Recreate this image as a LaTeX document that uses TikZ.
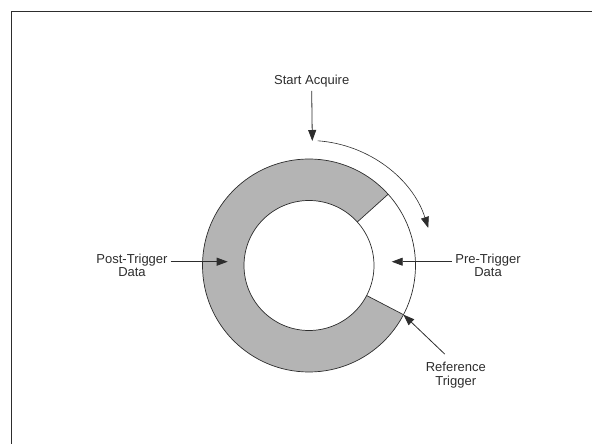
\documentclass[tikz,border=0pt]{standalone}
\usepackage{fontspec}
\setmainfont{Liberation Sans}
\usepackage{tikz}
\usetikzlibrary{arrows.meta}
\definecolor{ringgray}{RGB}{180,180,180}
\definecolor{inkgray}{RGB}{45,45,45}

\begin{document}
\begin{tikzpicture}[x=1pt, y=1pt,
        lbl/.style={align=center, inner sep=3pt, text=inkgray, font=\fontsize{13}{13.4}\selectfont},
        ring/.style={draw=inkgray, line width=0.7pt},
        tip/.style={-{Triangle[length=11pt, width=8pt]}, draw=inkgray, line width=0.8pt}]
        \useasboundingbox (0,0) rectangle (592,444);
        % Frame
        \draw[inkgray, line width=1.2pt] (11.3,0) -- (11.3,432.7) -- (592,432.7);

        % Ring
        \coordinate (c) at (309,178.5);
        \begin{scope}[shift={(c)}]
        \fill[ringgray] (42:106.5) arc[start angle=42, end angle=332.5, radius=106.5]
                -- (332.5:65) arc[start angle=332.5, end angle=42, radius=65] -- cycle;
        \draw[ring] (0,0) circle[radius=106.5];
        \draw[ring] (0,0) circle[radius=65];
        \draw[ring] (42:65) -- (42:106.5);
        \draw[ring] (-27.5:65) -- (-27.5:106.5);
        \coordinate (sa) at (3.3,124.5);
        \coordinate (arcstart) at (86:125);
        \coordinate (pa) at (-81.3,3.8);
        \coordinate (qa) at (82.7,3.8);
        \coordinate (rt) at (-27.5:106.5);
        \end{scope}

        % Nodes
        \node[lbl, anchor=base] (start) at (311.7,359) {Start Acquire};
        \node[lbl] (post) at (132,178.5) {Post-Trigger\\Data};
        \node[lbl] (pre) at (488,178.5) {Pre-Trigger\\Data};
        \node[lbl] (ref) at (455.8,68.9) {Reference\\Trigger};

        % Arrows
        \draw[tip] (start.south) -- (sa);
        \draw[tip, line width=0.6pt] (arcstart) arc[start angle=86, end angle=17.5, radius=125];
        \draw[tip] (post.east |- pa) -- (pa);
        \draw[tip] (pre.west |- qa) -- (qa);
        \draw[tip] ([shift={(-11pt,5pt)}]ref.north) -- (rt);
\end{tikzpicture}
\end{document}
